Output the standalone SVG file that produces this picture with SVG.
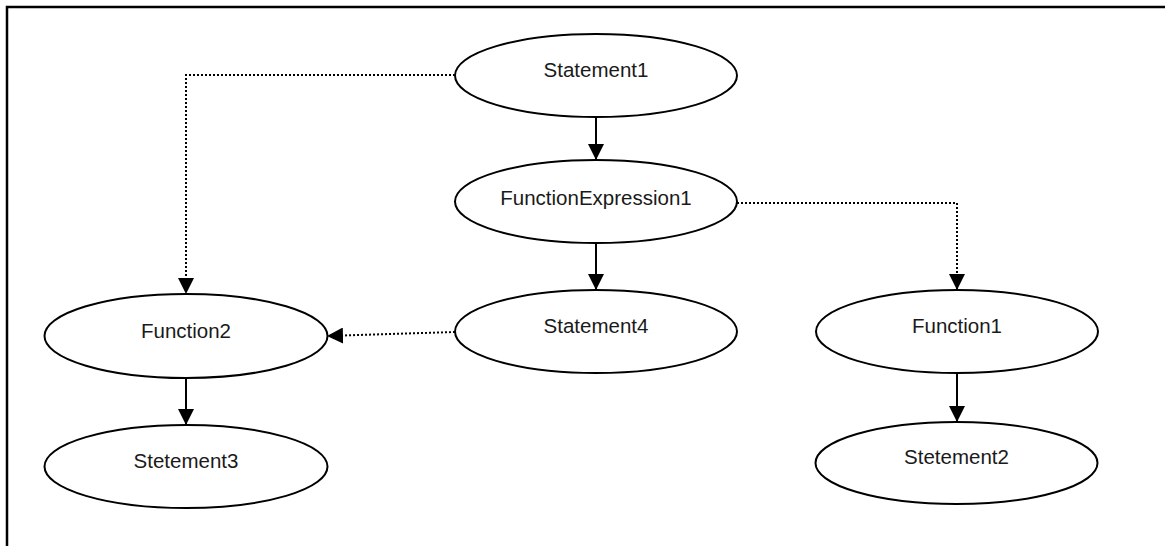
<svg xmlns="http://www.w3.org/2000/svg" width="1165" height="546" viewBox="0 0 1165 546">
  <defs>
    <marker id="arrow" markerWidth="16" markerHeight="16" viewBox="0 0 16 16" refX="16" refY="8" orient="auto" markerUnits="userSpaceOnUse">
      <path d="M0,0 L16,8 L0,16 Z" fill="#000"/>
    </marker>
  </defs>
  <style>
    .node ellipse { fill: #fff; stroke: #000; stroke-width: 2; }
    .node text { font-family: "Liberation Sans", Arial, sans-serif; font-size: 20.5px; fill: #1a1a1a; text-anchor: middle; }
    .solid { stroke: #000; stroke-width: 2; fill: none; marker-end: url(#arrow); }
    .dotted { stroke: #000; stroke-width: 2; fill: none; stroke-dasharray: 2 2; marker-end: url(#arrow); }
  </style>
  <rect width="1165" height="546" fill="#fff"/>
  <!-- outer frame, open on the right and bottom -->
  <path d="M7,546 L7,7 L1165,7" fill="none" stroke="#000" stroke-width="2.5"/>

  <g id="connectors">
    <line class="solid" x1="596" y1="117" x2="596" y2="160"/>
    <line class="solid" x1="596" y1="243" x2="596" y2="290"/>
    <line class="solid" x1="186" y1="378" x2="186" y2="425"/>
    <line class="solid" x1="957" y1="373" x2="957" y2="422"/>
    <polyline class="dotted" points="455,75 186,75 186,294"/>
    <polyline class="dotted" points="737,203 957,203 957,290"/>
    <line class="dotted" x1="455" y1="332" x2="327" y2="336"/>
  </g>

  <g id="statement1" class="node">
    <ellipse cx="596" cy="75.5" rx="141" ry="41.5"/>
    <text x="596" y="77">Statement1</text>
  </g>
  <g id="functionExpression1" class="node">
    <ellipse cx="596" cy="201.5" rx="141" ry="41.5"/>
    <text x="596" y="205">FunctionExpression1</text>
  </g>
  <g id="statement4" class="node">
    <ellipse cx="596" cy="331.5" rx="141" ry="41.5"/>
    <text x="596" y="333">Statement4</text>
  </g>
  <g id="function2" class="node">
    <ellipse cx="186" cy="336" rx="141.5" ry="42"/>
    <text x="186" y="338">Function2</text>
  </g>
  <g id="stetement3" class="node">
    <ellipse cx="186" cy="466.5" rx="141.5" ry="41.5"/>
    <text x="186" y="468">Stetement3</text>
  </g>
  <g id="function1" class="node">
    <ellipse cx="957" cy="331.5" rx="141" ry="41.5"/>
    <text x="957" y="333">Function1</text>
  </g>
  <g id="stetement2" class="node">
    <ellipse cx="956.5" cy="463" rx="141" ry="41"/>
    <text x="956.5" y="464">Stetement2</text>
  </g>
</svg>
